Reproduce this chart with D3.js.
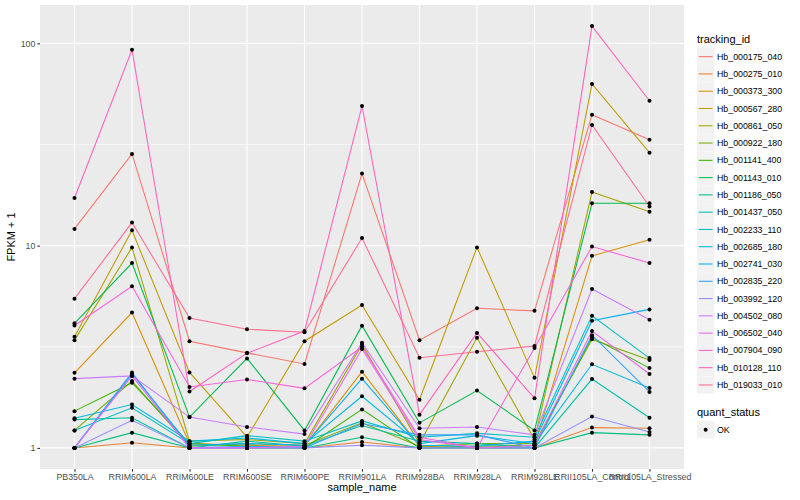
<!DOCTYPE html>
<html>
<head>
<meta charset="utf-8">
<script src="https://cdn.jsdelivr.net/npm/d3@7"></script>
<style>
  body { margin: 0; background: #fff; }
  svg text { font-family: "Liberation Sans", Arial, sans-serif; }
</style>
</head>
<body>
<div id="graf"></div>
<script>
// samples on the x axis
const samples = ["PB350LA", "RRIM600LA", "RRIM600LE", "RRIM600SE", "RRIM600PE", "RRIM901LA",
  "RRIM928BA", "RRIM928LA", "RRIM928LE", "RRII105LA_Control", "RRII105LA_Stressed"]

// FPKM + 1 per gene, one value per sample
const hb_000175_040 = [12.1, 28.4, 3.37, 2.95, 2.6, 22.7, 3.41, 4.9, 4.76, 44.4, 33.4]
const hb_000275_010 = [1.0, 1.06, 1.0, 1.0, 1.0, 1.07, 1.0, 1.0, 1.0, 1.26, 1.25]
const hb_000373_300 = [2.35, 4.67, 1.05, 1.03, 1.02, 2.38, 1.02, 1.0, 1.03, 8.9, 10.7]
const hb_000567_280 = [3.54, 11.9, 2.36, 1.13, 3.37, 5.09, 1.73, 9.8, 2.22, 63, 28.8]
const hb_000861_050 = [3.41, 9.8, 1.08, 1.1, 1.05, 3.25, 1.05, 3.5, 1.1, 18.4, 14.7]
const hb_000922_180 = [1.22, 2.14, 1.02, 1.05, 1.03, 1.33, 1.02, 1.05, 1.05, 3.44, 2.72]
const hb_001141_400 = [1.52, 2.1, 1.05, 1.02, 1.0, 1.55, 1.0, 1.02, 1.03, 3.52, 2.48]
const hb_001143_010 = [4.13, 8.2, 1.42, 2.77, 1.22, 4.02, 1.33, 1.92, 1.22, 16.2, 16.2]
const hb_001186_050 = [1.0, 1.19, 1.0, 1.0, 1.0, 1.13, 1.0, 1.0, 1.0, 1.19, 1.16]
const hb_001437_050 = [1.38, 1.41, 1.0, 1.08, 1.02, 1.29, 1.08, 1.05, 1.0, 2.19, 1.41]
const hb_002233_110 = [1.22, 1.58, 1.05, 1.15, 1.08, 1.36, 1.13, 1.18, 1.13, 4.5, 2.78]
const hb_002685_180 = [1.4, 1.64, 1.08, 1.12, 1.05, 1.8, 1.05, 1.15, 1.05, 2.59, 1.98]
const hb_002741_030 = [1.0, 2.32, 1.03, 1.05, 1.03, 2.2, 1.03, 1.02, 1.08, 4.25, 4.84]
const hb_002835_220 = [1.0, 2.36, 1.0, 1.02, 1.0, 1.32, 1.16, 1.16, 1.0, 3.61, 1.89]
const hb_003992_120 = [1.0, 1.37, 1.0, 1.0, 1.0, 1.03, 1.0, 1.0, 1.0, 1.43, 1.2]
const hb_004502_080 = [2.2, 2.27, 1.42, 1.27, 1.17, 3.31, 1.25, 1.27, 1.16, 6.1, 4.3]
const hb_006502_040 = [1.0, 2.27, 1.0, 1.0, 1.02, 3.08, 1.1, 1.0, 1.03, 3.78, 2.32]
const hb_007904_090 = [4.03, 6.3, 2.0, 2.18, 1.97, 3.16, 1.13, 1.0, 3.12, 9.9, 8.2]
const hb_010128_110 = [17.2, 93, 1.9, 2.94, 3.78, 49, 1.46, 3.7, 1.76, 121.7, 52]
const hb_019033_010 = [5.47, 13.0, 4.39, 3.86, 3.73, 10.9, 2.79, 2.99, 3.19, 39.5, 15.6]

const trackingIds = ["Hb_000175_040", "Hb_000275_010", "Hb_000373_300", "Hb_000567_280", "Hb_000861_050",
  "Hb_000922_180", "Hb_001141_400", "Hb_001143_010", "Hb_001186_050", "Hb_001437_050",
  "Hb_002233_110", "Hb_002685_180", "Hb_002741_030", "Hb_002835_220", "Hb_003992_120",
  "Hb_004502_080", "Hb_006502_040", "Hb_007904_090", "Hb_010128_110", "Hb_019033_010"]

const valores = [hb_000175_040, hb_000275_010, hb_000373_300, hb_000567_280, hb_000861_050,
  hb_000922_180, hb_001141_400, hb_001143_010, hb_001186_050, hb_001437_050,
  hb_002233_110, hb_002685_180, hb_002741_030, hb_002835_220, hb_003992_120,
  hb_004502_080, hb_006502_040, hb_007904_090, hb_010128_110, hb_019033_010]

const quantStatus = ["OK"]

// ggplot hue palette for 20 levels
const colores = ["#F8766D", "#EA8331", "#D89000", "#C09B00", "#A3A500", "#7CAE00", "#39B600", "#00BB4E",
  "#00BF7D", "#00C1A3", "#00BFC4", "#00BAE0", "#00B0F6", "#35A2FF", "#9590FF", "#C77CFF",
  "#E76BF3", "#FA62DB", "#FF62BC", "#FF6C91"]

const series = trackingIds.map((id, i) => ({
  id: id,
  color: colores[i],
  puntos: samples.map((s, j) => ({ sample: s, value: valores[i][j] }))
}))

const anchoTotal = 800
const altoTotal = 500
const panel = { left: 40, right: 684, top: 5, bottom: 469 }

const svg = d3.select("#graf").append("svg").attr("width", anchoTotal).attr("height", altoTotal)

// escalas
const x = d3.scalePoint().domain(samples).range([panel.left, panel.right]).padding(0.6)

const todos = valores.flat()
const lmin = Math.log10(d3.min(todos)), lmax = Math.log10(d3.max(todos))
const exp = (lmax - lmin) * 0.05
const y = d3.scaleLog().domain([Math.pow(10, lmin - exp), Math.pow(10, lmax + exp)])
  .range([panel.bottom, panel.top])

// fondo del panel y rejilla
svg.append("rect").attr("x", panel.left).attr("y", panel.top)
  .attr("width", panel.right - panel.left).attr("height", panel.bottom - panel.top)
  .attr("fill", "#EBEBEB")

const g = svg.append("g")
const majorY = [1, 10, 100]
const minorY = [Math.sqrt(10), Math.sqrt(1000)]

g.selectAll(".minor").data(minorY).enter().append("line")
  .attr("x1", panel.left).attr("x2", panel.right)
  .attr("y1", d => y(d)).attr("y2", d => y(d))
  .attr("stroke", "#fff").attr("stroke-width", 0.55)
g.selectAll(".majorY").data(majorY).enter().append("line")
  .attr("x1", panel.left).attr("x2", panel.right)
  .attr("y1", d => y(d)).attr("y2", d => y(d))
  .attr("stroke", "#fff").attr("stroke-width", 1.1)
g.selectAll(".majorX").data(samples).enter().append("line")
  .attr("x1", d => x(d)).attr("x2", d => x(d))
  .attr("y1", panel.top).attr("y2", panel.bottom)
  .attr("stroke", "#fff").attr("stroke-width", 1.1)

// lineas
const linea = d3.line().x(d => x(d.sample)).y(d => y(d.value))
svg.append("g").selectAll("path").data(series).enter().append("path")
  .attr("d", d => linea(d.puntos))
  .attr("fill", "none")
  .attr("stroke", d => d.color)
  .attr("stroke-width", 1.07)

// puntos
svg.append("g").selectAll("circle").data(series.flatMap(s => s.puntos)).enter().append("circle")
  .attr("cx", d => x(d.sample)).attr("cy", d => y(d.value))
  .attr("r", 2).attr("fill", "#000")

// ejes
const ejeY = d3.axisLeft(y).tickValues(majorY).tickFormat(d3.format("d")).tickSize(2.7).tickPadding(2)
const gy = svg.append("g").attr("transform", `translate(${panel.left},0)`).call(ejeY)
const ejeX = d3.axisBottom(x).tickSize(2.7).tickPadding(2)
const gx = svg.append("g").attr("transform", `translate(0,${panel.bottom})`).call(ejeX)

;[gx, gy].forEach(a => {
  a.select(".domain").remove()
  a.selectAll(".tick line").attr("stroke", "#333333").attr("stroke-width", 1.07)
  a.selectAll(".tick text").attr("fill", "#4D4D4D").style("font-size", "8.8px")
    .style("font-family", "'Liberation Sans', Arial, sans-serif")
})

svg.append("text").attr("x", (panel.left + panel.right) / 2).attr("y", 491)
  .attr("text-anchor", "middle").style("font-size", "11px").attr("fill", "#000").text("sample_name")
svg.append("text").attr("transform", `translate(15,${(panel.top + panel.bottom) / 2}) rotate(-90)`)
  .attr("text-anchor", "middle").style("font-size", "11px").attr("fill", "#000").text("FPKM + 1")

// leyenda tracking_id
const leg = svg.append("g").attr("transform", "translate(697,0)")
leg.append("text").attr("x", 0).attr("y", 43).style("font-size", "11px").text("tracking_id")
const paso = 17.28
const item = leg.selectAll(".item").data(series).enter().append("g")
  .attr("transform", (d, i) => `translate(0,${48 + i * paso})`)
item.append("rect").attr("width", 17.28).attr("height", 17.28).attr("fill", "#F2F2F2")
item.append("line").attr("x1", 1.7).attr("x2", 15.6).attr("y1", 8.64).attr("y2", 8.64)
  .attr("stroke", d => d.color).attr("stroke-width", 1.07)
item.append("text").attr("x", 20).attr("y", 8.64).attr("dy", "0.35em")
  .style("font-size", "8.8px").text(d => d.id)

// leyenda quant_status
const leg2 = svg.append("g").attr("transform", "translate(697,0)")
leg2.append("text").attr("x", 0).attr("y", 416).style("font-size", "11px").text("quant_status")
const item2 = leg2.selectAll(".item2").data(quantStatus).enter().append("g")
  .attr("transform", (d, i) => `translate(0,${421 + i * paso})`)
item2.append("rect").attr("width", 17.28).attr("height", 17.28).attr("fill", "#F2F2F2")
item2.append("circle").attr("cx", 8.64).attr("cy", 8.64).attr("r", 2).attr("fill", "#000")
item2.append("text").attr("x", 20).attr("y", 8.64).attr("dy", "0.35em")
  .style("font-size", "8.8px").text(d => d)
</script>
</body>
</html>
